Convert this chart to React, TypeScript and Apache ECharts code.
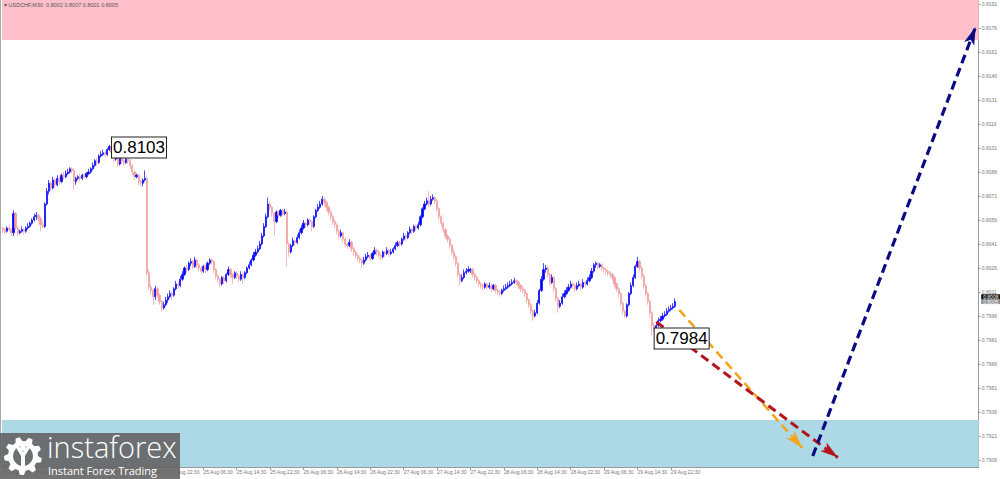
import React, { useEffect, useRef } from "react";
import * as echarts from "echarts";

const PIP = 10000;
const symbolTitle = "USDCHF,M30  0.8002 0.8007 0.8001 0.8005";
const yMin = 0.79016;
const yMax = 0.81935;
const priceTicks = [0.7906, 0.7921, 0.7936, 0.7951, 0.7966, 0.7981, 0.7996, 0.8011, 0.8026, 0.8041,
  0.8056, 0.8071, 0.8086, 0.8101, 0.8116, 0.8131, 0.8146, 0.8161, 0.8176, 0.8191];
const timeLabels = ["21 Aug 2025", "21 Aug 14:30", "21 Aug 22:30", "22 Aug 06:30", "22 Aug 14:30", "22 Aug 22:30",
  "25 Aug 06:30", "25 Aug 14:30", "25 Aug 22:30", "26 Aug 06:30", "26 Aug 14:30", "26 Aug 22:30",
  "27 Aug 06:30", "27 Aug 14:30", "27 Aug 22:30", "28 Aug 06:30", "28 Aug 14:30", "28 Aug 22:30",
  "29 Aug 06:30", "29 Aug 14:30", "29 Aug 22:30"];
const barsPerLabel = 16;
const futureSlots = 145;

// M30 bars, [open, high, low, close] in pips (price * 10000)
const bars = [
  [8051,8052,8048,8050],[8050,8051,8047,8049],[8049,8052,8048,8051],[8051,8053,8049,8050],[8050,8051,8046,8048],[8048,8062,8046,8060],[8060,8061,8050,8051],[8051,8052,8046,8048],
  [8048,8050,8047,8049],[8049,8052,8048,8050],[8050,8051,8047,8049],[8049,8052,8048,8051],[8051,8054,8050,8052],[8052,8055,8051,8054],[8054,8057,8053,8056],[8056,8060,8055,8058],
  [8058,8061,8056,8059],[8059,8060,8055,8057],[8057,8058,8049,8053],[8053,8055,8051,8052],[8052,8067,8051,8066],[8066,8076,8065,8074],[8074,8081,8072,8079],[8079,8080,8074,8076],
  [8076,8083,8075,8081],[8081,8082,8076,8078],[8078,8084,8077,8082],[8082,8083,8078,8080],[8080,8085,8079,8084],[8084,8086,8081,8083],[8083,8087,8082,8085],[8085,8088,8084,8086],
  [8086,8089,8085,8088],[8088,8089,8085,8087],[8087,8088,8075,8080],[8080,8083,8078,8082],[8082,8084,8081,8083],[8083,8085,8080,8082],[8082,8085,8081,8084],[8084,8085,8082,8083],
  [8083,8086,8082,8085],[8085,8088,8084,8086],[8086,8089,8085,8088],[8088,8092,8087,8090],[8090,8094,8089,8093],[8093,8095,8090,8092],[8092,8097,8091,8096],[8096,8099,8095,8097],
  [8097,8100,8096,8098],[8098,8099,8095,8097],[8097,8101,8096,8100],[8100,8103,8099,8102],[8102,8102,8096,8098],[8098,8099,8092,8094],[8094,8097,8093,8095],[8095,8096,8089,8091],
  [8091,8096,8090,8095],[8095,8096,8091,8093],[8093,8094,8090,8092],[8092,8095,8091,8094],[8094,8095,8091,8093],[8093,8094,8088,8090],[8090,8091,8084,8086],[8086,8087,8081,8083],
  [8083,8085,8082,8084],[8084,8085,8078,8080],[8080,8081,8077,8079],[8079,8082,8077,8081],[8081,8087,8080,8082],[8082,8083,8021,8023],[8023,8025,8012,8014],[8014,8016,8009,8012],
  [8012,8013,8003,8008],[8008,8015,8006,8013],[8013,8014,8007,8009],[8009,8010,8003,8005],[8005,8006,7999,8001],[8001,8005,8000,8003],[8003,8008,8002,8006],[8006,8010,8004,8008],
  [8008,8012,8007,8010],[8010,8011,8006,8009],[8009,8014,8008,8013],[8013,8018,8012,8016],[8016,8017,8013,8015],[8015,8021,8014,8019],[8019,8024,8018,8022],[8022,8027,8021,8026],
  [8026,8028,8023,8025],[8025,8030,8024,8029],[8029,8032,8027,8030],[8030,8031,8025,8027],[8027,8033,8026,8031],[8031,8032,8026,8028],[8028,8029,8024,8026],[8026,8027,8022,8024],
  [8024,8028,8023,8027],[8027,8028,8023,8025],[8025,8030,8024,8029],[8029,8032,8028,8031],[8031,8032,8028,8030],[8030,8031,8023,8025],[8025,8026,8019,8021],[8021,8022,8017,8019],
  [8019,8020,8014,8016],[8016,8021,8015,8020],[8020,8021,8016,8018],[8018,8023,8017,8022],[8022,8027,8021,8025],[8025,8026,8020,8022],[8022,8023,8016,8020],[8020,8024,8019,8023],
  [8023,8024,8019,8021],[8021,8022,8017,8019],[8019,8024,8018,8022],[8022,8023,8016,8020],[8020,8024,8019,8023],[8023,8027,8022,8026],[8026,8030,8025,8028],[8028,8032,8027,8031],
  [8031,8036,8030,8034],[8034,8038,8033,8036],[8036,8040,8035,8038],[8038,8043,8037,8041],[8041,8048,8040,8046],[8046,8054,8045,8052],[8052,8060,8051,8058],[8058,8070,8057,8066],
  [8066,8068,8062,8064],[8064,8065,8058,8060],[8060,8061,8046,8055],[8055,8062,8054,8061],[8061,8062,8057,8059],[8059,8063,8058,8062],[8062,8063,8058,8060],[8060,8063,8059,8061],
  [8061,8062,8027,8041],[8041,8042,8033,8036],[8036,8041,8035,8040],[8040,8045,8039,8043],[8043,8044,8040,8042],[8042,8047,8041,8045],[8045,8050,8044,8048],[8048,8053,8047,8051],
  [8051,8056,8050,8054],[8054,8055,8051,8053],[8053,8057,8052,8056],[8056,8057,8053,8055],[8055,8056,8049,8052],[8052,8059,8051,8058],[8058,8063,8057,8062],[8062,8066,8061,8064],
  [8064,8068,8063,8066],[8066,8071,8065,8069],[8069,8070,8065,8067],[8067,8068,8062,8064],[8064,8065,8059,8061],[8061,8062,8056,8058],[8058,8059,8053,8055],[8055,8056,8051,8053],
  [8053,8054,8047,8049],[8049,8050,8044,8046],[8046,8050,8045,8048],[8048,8049,8042,8044],[8044,8045,8039,8041],[8041,8042,8038,8040],[8040,8044,8039,8042],[8042,8043,8036,8038],
  [8038,8039,8034,8036],[8036,8037,8032,8034],[8034,8035,8030,8032],[8032,8033,8029,8031],[8031,8032,8026,8029],[8029,8033,8028,8031],[8031,8035,8030,8033],[8033,8036,8032,8034],
  [8034,8035,8030,8032],[8032,8036,8031,8035],[8035,8039,8034,8037],[8037,8038,8034,8036],[8036,8037,8032,8034],[8034,8035,8031,8033],[8033,8037,8032,8036],[8036,8037,8033,8035],
  [8035,8039,8034,8037],[8037,8038,8033,8035],[8035,8038,8034,8036],[8036,8039,8035,8038],[8038,8042,8037,8040],[8040,8043,8039,8042],[8042,8043,8039,8041],[8041,8045,8040,8044],
  [8044,8048,8043,8046],[8046,8047,8043,8045],[8045,8049,8044,8048],[8048,8052,8047,8050],[8050,8051,8047,8049],[8049,8053,8048,8052],[8052,8053,8049,8051],[8051,8055,8050,8053],
  [8053,8059,8052,8058],[8058,8064,8057,8063],[8063,8068,8062,8066],[8066,8070,8065,8068],[8068,8074,8064,8066],[8066,8071,8065,8069],[8069,8072,8068,8070],[8070,8071,8066,8068],
  [8068,8069,8061,8063],[8063,8064,8056,8058],[8058,8059,8052,8054],[8054,8055,8048,8050],[8050,8051,8044,8046],[8046,8047,8042,8044],[8044,8045,8038,8040],[8040,8041,8034,8036],
  [8036,8038,8031,8033],[8033,8034,8027,8029],[8029,8030,8020,8022],[8022,8023,8015,8018],[8018,8022,8017,8020],[8020,8025,8019,8023],[8023,8026,8022,8024],[8024,8027,8023,8025],
  [8025,8026,8023,8025],[8025,8026,8020,8022],[8022,8023,8018,8020],[8020,8021,8016,8018],[8018,8019,8014,8016],[8016,8017,8013,8015],[8015,8016,8012,8014],[8014,8017,8013,8016],
  [8016,8017,8012,8014],[8014,8017,8013,8015],[8015,8016,8011,8013],[8013,8016,8012,8015],[8015,8016,8010,8012],[8012,8013,8009,8011],[8011,8012,8008,8010],[8010,8013,8009,8012],
  [8012,8015,8011,8013],[8013,8016,8012,8014],[8014,8017,8013,8015],[8015,8018,8014,8016],[8016,8019,8015,8017],[8017,8020,8016,8018],[8018,8019,8015,8017],[8017,8018,8013,8015],
  [8015,8016,8011,8013],[8013,8015,8010,8012],[8012,8013,8008,8010],[8010,8011,8004,8006],[8006,8007,8001,8003],[8003,8004,7997,7999],[7999,8000,7993,7996],[7996,8000,7995,7998],
  [7998,8006,7997,8004],[8004,8013,8003,8012],[8012,8021,8011,8019],[8019,8029,8018,8025],[8025,8028,8023,8026],[8026,8027,8020,8022],[8022,8023,8015,8017],[8017,8022,8016,8020],
  [8020,8021,8011,8013],[8013,8014,8005,8007],[8007,8008,7998,8002],[8002,8006,8001,8004],[8004,8010,8003,8008],[8008,8012,8007,8010],[8010,8014,8009,8012],[8012,8016,8011,8014],
  [8014,8018,8013,8016],[8016,8017,8013,8015],[8015,8016,8011,8013],[8013,8017,8012,8015],[8015,8018,8014,8016],[8016,8017,8012,8014],[8014,8019,8013,8017],[8017,8018,8014,8016],
  [8016,8020,8015,8018],[8018,8022,8017,8020],[8020,8026,8019,8024],[8024,8029,8023,8028],[8028,8030,8026,8029],[8029,8030,8025,8027],[8027,8029,8026,8028],[8028,8029,8024,8026],
  [8026,8027,8023,8025],[8025,8026,8022,8024],[8024,8025,8021,8023],[8023,8024,8020,8022],[8022,8023,8018,8020],[8020,8021,8014,8016],[8016,8017,8011,8013],[8013,8014,8008,8010],
  [8010,8011,8002,8004],[8004,8005,7997,7999],[7999,8000,7995,7996],[7996,8004,7995,8003],[8003,8011,8002,8010],[8010,8017,8009,8015],[8015,8022,8014,8020],[8020,8028,8019,8027],
  [8027,8033,8026,8030],[8030,8031,8024,8026],[8026,8027,8019,8021],[8021,8022,8013,8015],[8015,8016,8008,8010],[8010,8011,8003,8005],[8005,8006,7995,7998],[7998,7999,7984,7990],
  [7990,7992,7986,7988],[7988,7992,7987,7990],[7990,7995,7989,7993],[7993,7996,7992,7994],[7994,7998,7993,7996],[7996,7999,7995,7997],[7997,8001,7996,7999],[7999,8002,7998,8000],
  [8000,8003,7999,8001],[8001,8004,8000,8002],[8002,8007,8001,8005],
];

const resistanceZone = [0.81685, yMax];
const supportZone = [yMin, 0.7931];

const pivotLabels = [
  { text: "0.8103", idx: 52, price: 0.81013 },
  { text: "0.7984", idx: 312, price: 0.79819 },
];

const forecastArrows = [
  { from: [324, 0.79998], to: [383, 0.79135], color: "#F5A31A", width: 2.5 },
  { from: [313, 0.79923], to: [400, 0.79075], color: "#B4141C", width: 3 },
  { from: [388, 0.79085], to: [466, 0.81766], color: "#0A0A82", width: 3.2 },
];

const priceTags = [
  { value: 0.8008, text: "0.8008", bg: "#111111" },
  { value: 0.8005, text: "0.8005", bg: "#8a8a8a" },
];

function gearPoints(cx: number, cy: number, rOut: number, rIn: number, teeth: number) {
  const pts: number[][] = [];
  const step = (Math.PI * 2) / teeth;
  for (let k = 0; k < teeth; k++) {
    const a = k * step;
    const f = [[0, rIn], [0.18, rOut], [0.5, rOut], [0.68, rIn]];
    f.forEach(([t, r]) => pts.push([cx + r * Math.cos(a + t * step), cy + r * Math.sin(a + t * step)]));
  }
  return pts;
}

export default function App() {
  const ref = useRef<HTMLDivElement>(null);
  useEffect(() => {
    if (!ref.current) return;
    const chart = echarts.init(ref.current, null, { renderer: "svg" });
    const slots = bars.length + futureSlots;
    const categories = Array.from({ length: slots }, (_, i) => `${i}`);
    const showTick = (i: number) => i % barsPerLabel === 0 && i / barsPerLabel < timeLabels.length;
    const axisFont = "Liberation Sans, Arial, sans-serif";
    const boxColor = "rgba(100,100,100,0.9)";
    const innerColor = "rgb(107,112,113)";
    const Z = 50;

    const arrowLines = forecastArrows.map((a) => [
      { coord: [`${a.from[0]}`, a.from[1]], symbol: "none", lineStyle: { color: a.color, width: a.width, type: [9, 5] }, itemStyle: { color: a.color } },
      { coord: [`${a.to[0]}`, a.to[1]], symbol: "arrow", lineStyle: { color: a.color, width: a.width, type: [9, 5] }, itemStyle: { color: a.color } },
    ]);
    const pivotPoints = pivotLabels.map((p) => ({ name: p.text, coord: [`${p.idx}`, p.price] }));
    const tagPoints = priceTags.map((t) => ({
      name: t.text,
      coord: [`${slots - 1}`, t.value],
      label: {
        show: true,
        position: "right",
        distance: 3,
        formatter: "{b}",
        color: "#fff",
        backgroundColor: t.bg,
        borderWidth: 0,
        fontSize: 5,
        lineHeight: 5,
        fontFamily: axisFont,
        padding: [0, 2],
      },
    }));

    chart.setOption({
      animation: false,
      backgroundColor: "#ffffff",
      grid: { left: 0, right: 19, top: 0, bottom: 12, containLabel: false },
      xAxis: {
        type: "category",
        data: categories,
        boundaryGap: true,
        axisLine: { show: true, lineStyle: { color: "#9a9a9a", width: 1 } },
        axisTick: { show: true, interval: (i: number) => showTick(i), length: 3, lineStyle: { color: "#9a9a9a" }, alignWithLabel: true },
        axisLabel: {
          show: true,
          interval: (i: number) => showTick(i),
          formatter: (_v: string, i: number) => timeLabels[i / barsPerLabel] ?? "",
          fontSize: 5,
          color: "#777",
          fontFamily: axisFont,
          align: "left",
          margin: 2,
        },
        splitLine: { show: false },
      },
      yAxis: {
        type: "value",
        position: "right",
        min: yMin,
        max: yMax,
        scale: true,
        axisLine: { show: true, lineStyle: { color: "#9a9a9a", width: 1 } },
        axisTick: { show: true, customValues: priceTicks, length: 2, lineStyle: { color: "#9a9a9a" } },
        axisLabel: {
          show: true,
          customValues: priceTicks,
          formatter: (v: number) => v.toFixed(4),
          fontSize: 5,
          color: "#777",
          fontFamily: axisFont,
          margin: 3,
        },
        splitLine: { show: false },
      },
      series: [
        {
          type: "candlestick",
          data: bars.map(([o, h, l, c]) => [o / PIP, c / PIP, l / PIP, h / PIP]),
          barWidth: 1.7,
          large: false,
          progressive: 0,
          clip: false,
          itemStyle: {
            color: "#0000ff",
            color0: "#f29c9c",
            borderColor: "#0000ff",
            borderColor0: "#f29c9c",
            borderColorDoji: "#0000ff",
            borderWidth: 0.7,
          },
          markArea: {
            silent: true,
            data: [
              [{ yAxis: resistanceZone[0], itemStyle: { color: "#FFC0CB", opacity: 1 } }, { yAxis: resistanceZone[1] }],
              [{ yAxis: supportZone[0], itemStyle: { color: "#ADD8E6", opacity: 1 } }, { yAxis: supportZone[1] }],
            ],
          },
          markPoint: {
            silent: true,
            symbol: "rect",
            symbolSize: 1,
            itemStyle: { color: "rgba(0,0,0,0)" },
            label: {
              show: true,
              position: "right",
              distance: 0,
              formatter: "{b}",
              color: "#000",
              fontSize: 17,
              lineHeight: 19,
              fontFamily: axisFont,
              backgroundColor: "#ffffff",
              borderColor: "#222",
              borderWidth: 1,
              padding: [1, 1, 0, 1],
            },
            data: [...pivotPoints, ...tagPoints],
          },
          markLine: {
            silent: true,
            symbol: ["none", "arrow"],
            symbolSize: [8, 18],
            label: { show: false },
            data: arrowLines,
          },
        },
      ],
      graphic: [
        { type: "rect", z: Z, shape: { x: 0, y: 0, width: 1, height: 467 }, style: { fill: "#aaaaaa" }, silent: true },
        {
          type: "text",
          z: Z,
          x: 4,
          y: 2,
          style: { text: "▾ " + symbolTitle, fontSize: 5.5, fill: "#555", fontFamily: axisFont },
          silent: true,
        },
        { type: "rect", z: Z, silent: true, shape: { x: 0, y: 433, width: 180, height: 46 }, style: { fill: boxColor } },
        { type: "polygon", z: Z + 1, silent: true, shape: { points: gearPoints(23, 456, 19, 15, 9) }, style: { fill: "#ffffff" } },
        { type: "circle", z: Z + 2, silent: true, shape: { cx: 23, cy: 456, r: 10 }, style: { fill: innerColor } },
        { type: "circle", z: Z + 3, silent: true, shape: { cx: 23, cy: 448, r: 3 }, style: { fill: "#ffffff" } },
        {
          type: "polygon",
          z: Z + 3,
          silent: true,
          shape: { points: [[15, 446], [18, 445], [23, 452], [28, 445], [31, 446], [25, 456], [25, 467], [21, 467], [21, 456]] },
          style: { fill: "#ffffff" },
        },
        {
          type: "text",
          z: Z + 3,
          silent: true,
          x: 47,
          y: 461,
          style: { text: "instaforex", fontSize: 29, fontWeight: 300, fill: "#ffffff", fontFamily: "Open Sans, sans-serif", textVerticalAlign: "bottom" },
        },
        {
          type: "text",
          z: Z + 3,
          silent: true,
          x: 48,
          y: 476,
          style: { text: "Instant Forex Trading", fontSize: 11, fill: "#ffffff", fontFamily: "Open Sans, sans-serif", textVerticalAlign: "bottom" },
        },
      ],
    });
    return () => chart.dispose();
  }, []);
  return <div ref={ref} style={{ position: "fixed", left: 0, top: 0, width: 1000, height: 479 }} />;
}
